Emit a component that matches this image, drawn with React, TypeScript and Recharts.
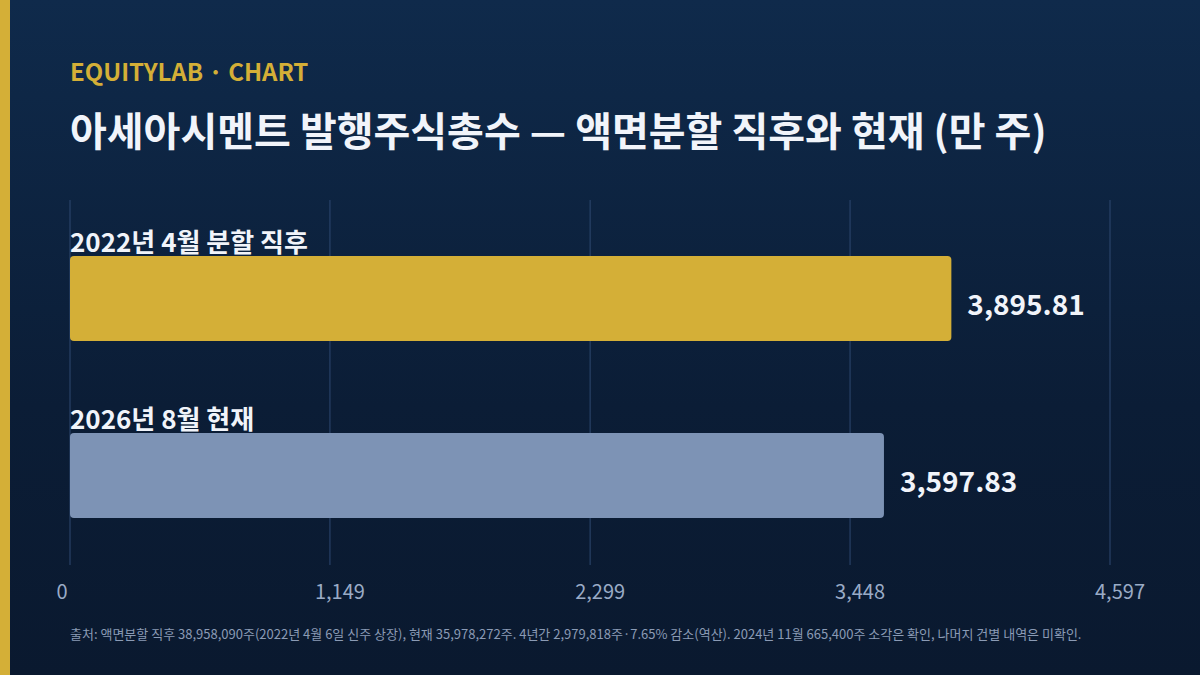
import { BarChart, Bar, XAxis, YAxis, CartesianGrid, LabelList } from "recharts";

const categories = ["2022년 4월 분할 직후", "2026년 8월 현재"];
const shares = [3895.81, 3597.83];
const barColors = ["#d4af37", "#7d93b5"];
const xTicks = [0, 1149, 2299, 3448, 4597];

const data = categories.map((name, i) => ({ name, value: shares[i], color: barColors[i] }));

const FONT = "'Noto Sans CJK KR', 'Noto Sans', sans-serif";

const fmtTick = (v: number) => Math.round(v).toLocaleString("en-US");
const fmtValue = (v: number) =>
  v.toLocaleString("en-US", { minimumFractionDigits: 2, maximumFractionDigits: 2 });

const XTick = (props: any) => {
  const { x, payload, index } = props;
  const dx = index === 0 ? -8 : 10;
  return (
    <text x={x + dx} y={599} textAnchor="middle" fill="#9aabc6" fontSize={20} fontFamily={FONT}>
      {fmtTick(payload.value)}
    </text>
  );
};

const CategoryLabel = (props: any) => {
  const { x, y, value } = props;
  return (
    <text x={x} y={y - 4} fill="#f1f4fa" fontSize={26} fontWeight={700} fontFamily={FONT}>
      {value}
    </text>
  );
};

const ValueLabel = (props: any) => {
  const { x, y, width, height, value } = props;
  return (
    <text
      x={x + width + 16}
      y={y + height / 2 + 16}
      fill="#f1f4fa"
      fontSize={28}
      fontWeight={700}
      fontFamily={FONT}
    >
      {fmtValue(value)}
    </text>
  );
};

const App = () => {
  return (
    <div
      style={{
        position: "absolute",
        left: 0,
        top: 0,
        width: 1200,
        height: 675,
        overflow: "hidden",
        background: "linear-gradient(180deg, #0f2a4b 0%, #0b1d36 60%, #0a192f 100%)",
        fontFamily: FONT,
      }}
    >
      <div style={{ position: "absolute", left: 0, top: 0, width: 10, height: 675, background: "#d4af37" }} />
      <div
        style={{
          position: "absolute",
          left: 70,
          top: 54,
          fontSize: 24,
          fontWeight: 700,
          color: "#d4af37",
          lineHeight: "34px",
        }}
      >
        EQUITYLAB · CHART
      </div>
      <div
        style={{
          position: "absolute",
          left: 70,
          top: 99,
          fontSize: 40,
          fontWeight: 700,
          color: "#f1f4fa",
          lineHeight: "60px",
          whiteSpace: "nowrap",
        }}
      >
        아세아시멘트 발행주식총수 — 액면분할 직후와 현재 (만 주)
      </div>
      <div
        style={{
          position: "absolute",
          left: 70,
          top: 624,
          fontSize: 13,
          color: "#8b9bb5",
          lineHeight: "20px",
          whiteSpace: "nowrap",
        }}
      >
        출처: 액면분할 직후 38,958,090주(2022년 4월 6일 신주 상장), 현재 35,978,272주. 4년간 2,979,818주·7.65% 감소(역산). 2024년 11월 665,400주 소각은 확인, 나머지 건별 내역은 미확인.
      </div>
      <div style={{ position: "absolute", left: 0, top: 0 }}>
        <BarChart
          width={1200}
          height={675}
          data={data}
          layout="vertical"
          margin={{ top: 200, right: 90, bottom: 0, left: 70 }}
          barSize={85}
        >
          <CartesianGrid horizontal={false} stroke="#2e4870" strokeWidth={1} />
          <XAxis
            type="number"
            domain={[0, 4597]}
            ticks={xTicks}
            axisLine={false}
            tickLine={false}
            tick={<XTick />}
            height={110}
          />
          <YAxis type="category" dataKey="name" hide padding={{ top: 10, bottom: 1 }} />
          <Bar dataKey="value" radius={4} isAnimationActive={false} shape={(p: any) => {
            const { x, y, width, height, payload } = p;
            return <rect x={x} y={y} width={width} height={height} rx={4} ry={4} fill={payload.color} />;
          }}>
            <LabelList dataKey="name" content={<CategoryLabel />} />
            <LabelList dataKey="value" content={<ValueLabel />} />
          </Bar>
        </BarChart>
      </div>
    </div>
  );
};

export default App;
